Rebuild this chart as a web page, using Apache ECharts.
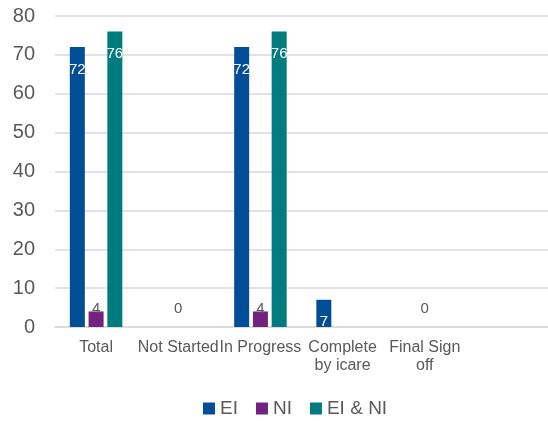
<!DOCTYPE html>
<html>
<head>
<meta charset="utf-8">
<script src="https://cdn.jsdelivr.net/npm/echarts@6/dist/echarts.min.js"></script>
<style>
html,body{margin:0;padding:0;background:#fff;}
#chart{width:548px;height:421px;}
</style>
</head>
<body>
<div id="chart"></div>
<script>
var categories = ['Total', 'Not Started', 'In Progress', 'Complete\nby icare', 'Final Sign\noff', ''];
var eiValues = [72, null, 72, 7, null, null];
var niValues = [4, 0, 4, null, 0, null];
var einiValues = [76, null, 76, null, null, null];
var yTicks = {min: 0, max: 80, interval: 10};

var FONT = '"Liberation Sans", Arial, sans-serif';
var GRAY = '#595959';

function niItems(vals) {
  return vals.map(function (v) {
    if (v === null) return null;
    return {value: v, label: {distance: v === 0 ? 11 : -5}};
  });
}

var chart = echarts.init(document.getElementById('chart'));
chart.setOption({
  animation: false,
  textStyle: {fontFamily: FONT},
  grid: {left: 55, right: 0, top: 16, bottom: 94, containLabel: false},
  legend: {
    bottom: -2,
    left: 198,
    itemWidth: 12,
    itemHeight: 12,
    itemGap: 18,
    icon: 'rect',
    textStyle: {fontSize: 19, color: GRAY, fontFamily: FONT},
    data: ['EI', 'NI', 'EI & NI']
  },
  xAxis: {
    type: 'category',
    data: categories,
    axisLine: {lineStyle: {color: '#d9d9d9', width: 1.5}},
    axisTick: {show: false},
    axisLabel: {interval: 0, color: GRAY, fontSize: 16, lineHeight: 18, margin: 12, fontFamily: FONT}
  },
  yAxis: {
    type: 'value',
    min: yTicks.min,
    max: yTicks.max,
    interval: yTicks.interval,
    axisLine: {show: false},
    axisTick: {show: false},
    splitLine: {lineStyle: {color: '#d9d9d9', width: 1.5}},
    axisLabel: {color: GRAY, fontSize: 20, margin: 20, fontFamily: FONT}
  },
  series: [
    {
      name: 'EI', type: 'bar', data: eiValues, barWidth: 15, barGap: '25%',
      itemStyle: {color: '#024E96'},
      label: {show: true, position: 'insideTop', distance: 15, color: '#fff', fontSize: 15, fontFamily: FONT}
    },
    {
      name: 'NI', type: 'bar', data: niItems(niValues), barWidth: 15, barGap: '25%',
      itemStyle: {color: '#71237F'},
      label: {show: true, position: 'top', color: GRAY, fontSize: 15, fontFamily: FONT}
    },
    {
      name: 'EI & NI', type: 'bar', data: einiValues, barWidth: 15, barGap: '25%',
      itemStyle: {color: '#007B80'},
      label: {show: true, position: 'insideTop', distance: 15, color: '#fff', fontSize: 15, fontFamily: FONT}
    }
  ]
});
</script>
</body>
</html>
